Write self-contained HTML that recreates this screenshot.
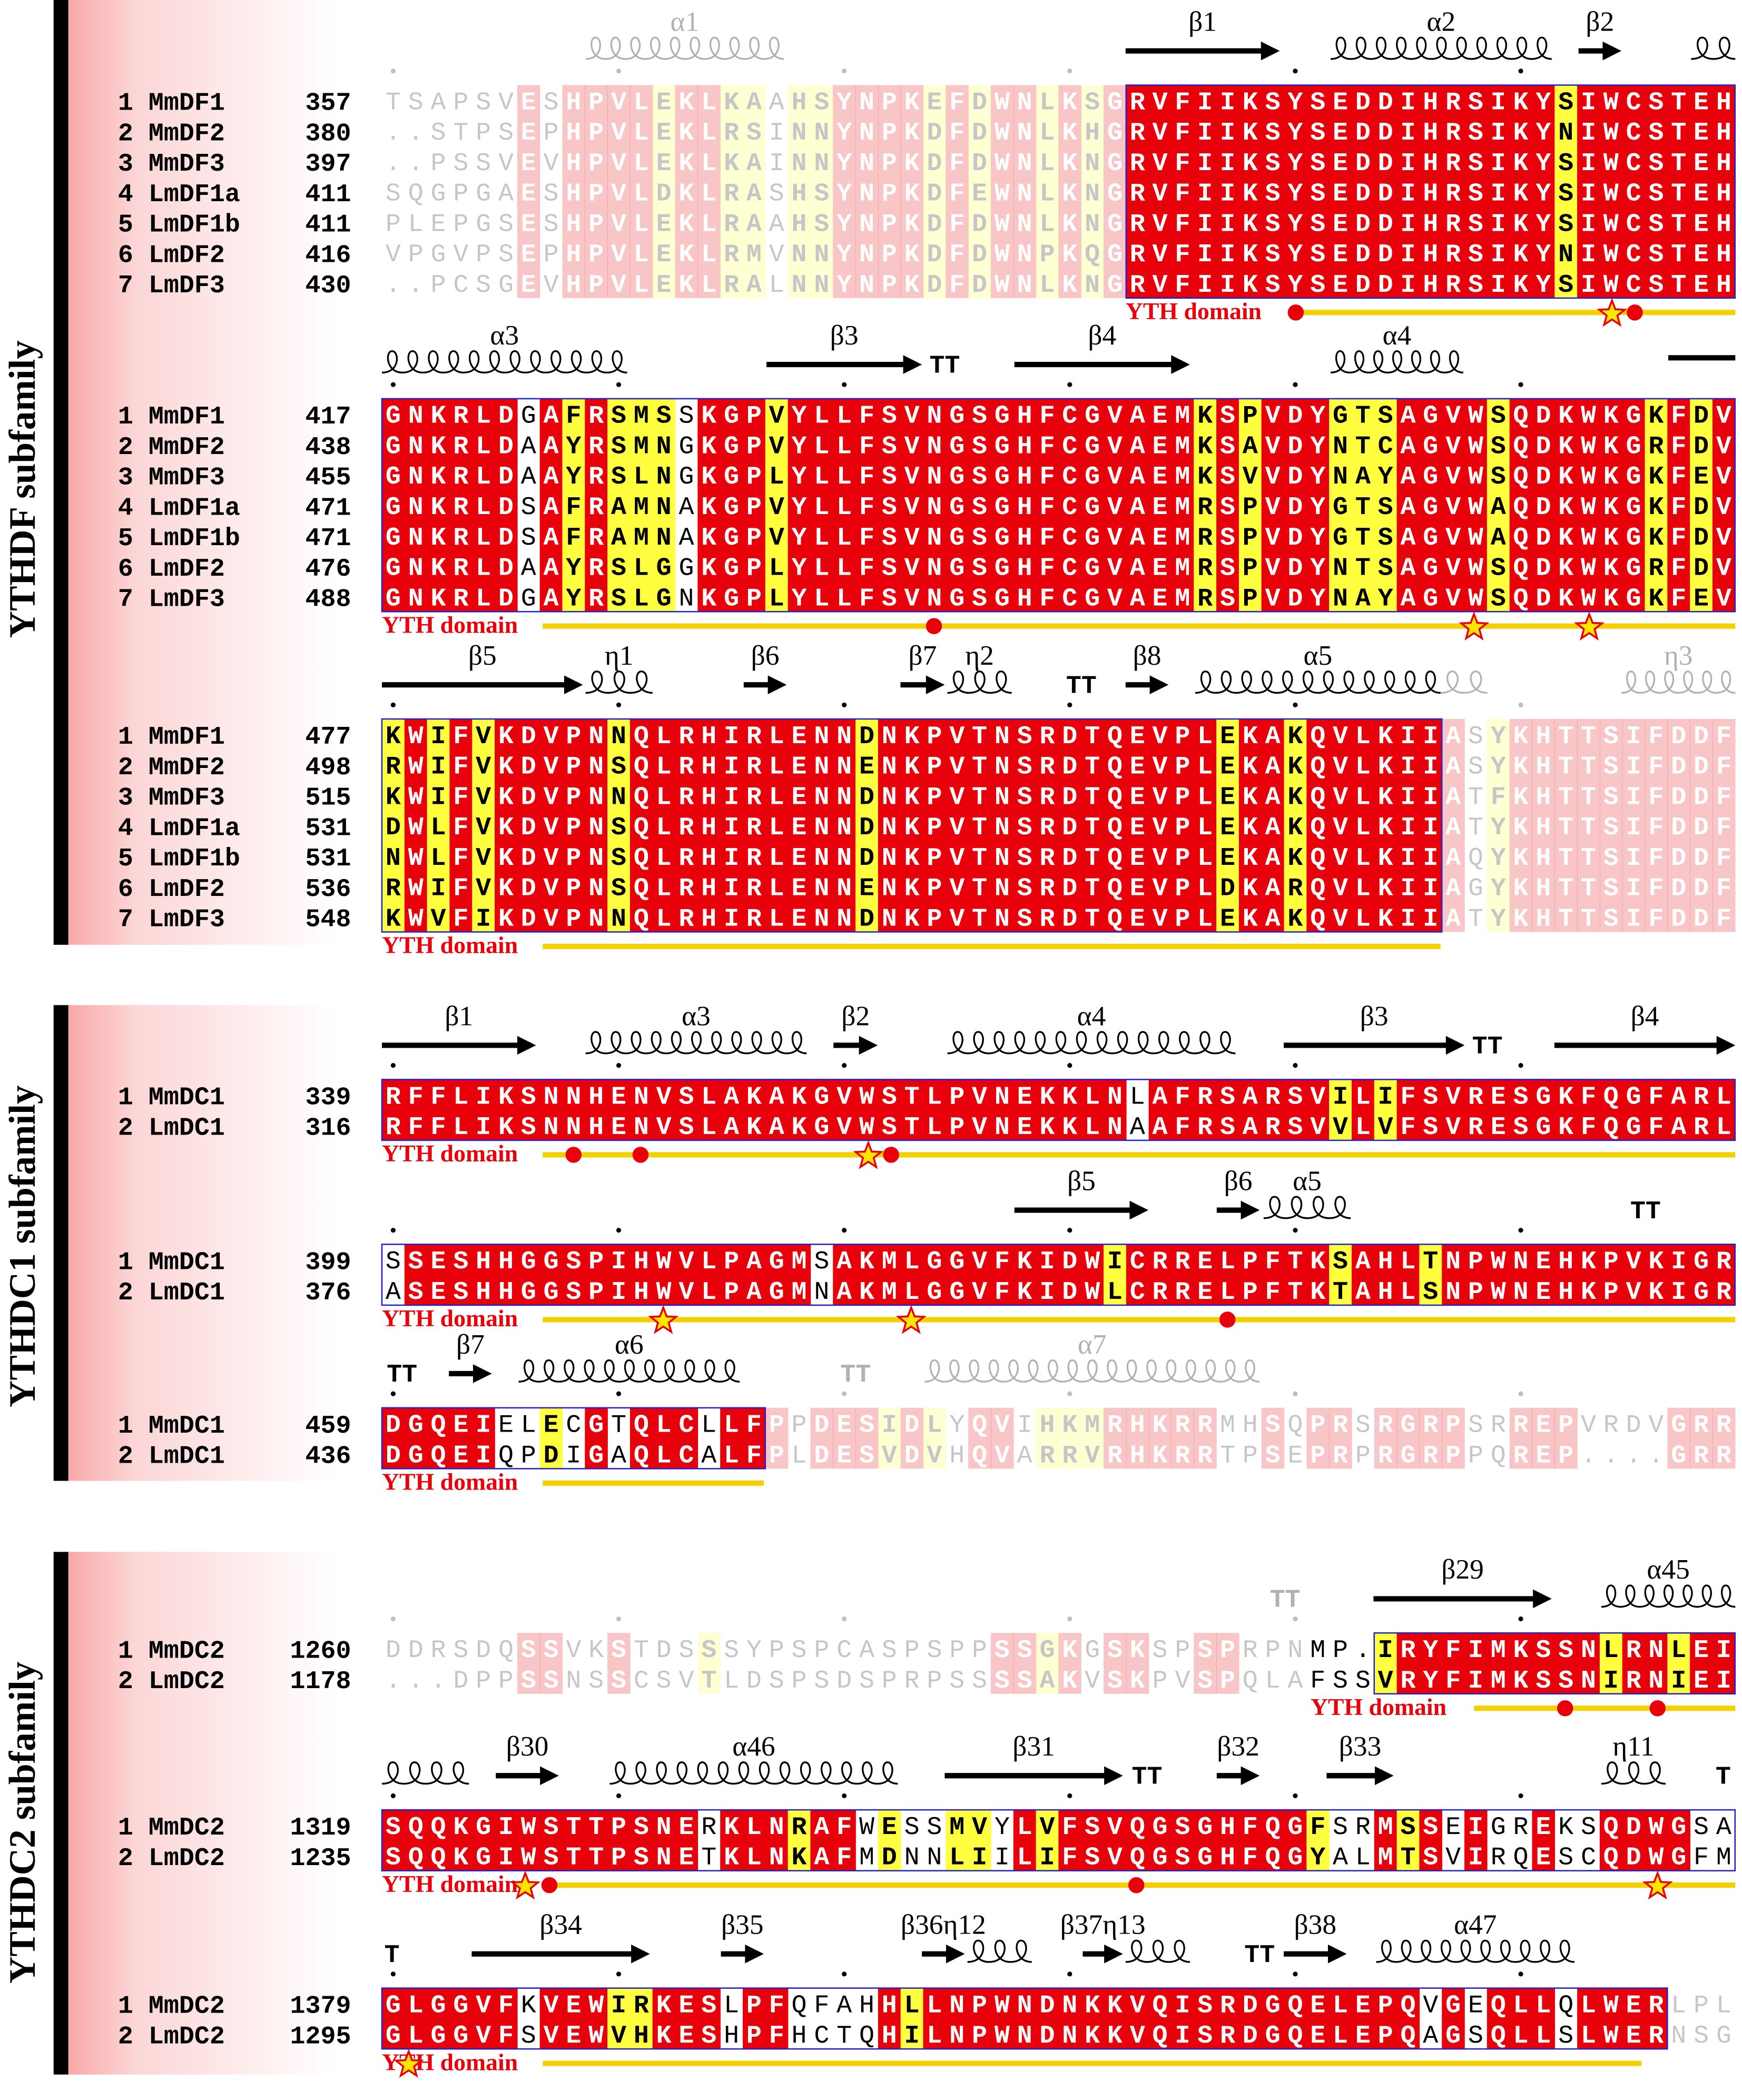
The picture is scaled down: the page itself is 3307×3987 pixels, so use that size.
<!DOCTYPE html>
<html><head><meta charset="utf-8"><title>YTH domain alignment</title>
<style>html,body{margin:0;padding:0;background:#fff;}svg{display:block;}</style></head>
<body>
<svg id="fig" xmlns="http://www.w3.org/2000/svg" width="3307" height="3987" viewBox="0 0 1300 1567" preserveAspectRatio="none">
<defs>
<linearGradient id="pink" x1="0" x2="1" y1="0" y2="0"><stop offset="0" stop-color="#f9a8a8"/><stop offset="0.25" stop-color="#fcd6d6"/><stop offset="1" stop-color="#ffffff"/></linearGradient>
</defs>
<g>
<rect x="51" y="0" width="200" height="705" fill="url(#pink)"/><rect x="40" y="0" width="11" height="705" fill="#000"/>
<text x="26" y="365" transform="rotate(-90 26 365)" text-anchor="middle" font-family="Liberation Serif, serif" font-weight="bold" font-size="28">YTHDF subfamily</text></g>
<g>
<rect x="51" y="750" width="200" height="355" fill="url(#pink)"/><rect x="40" y="750" width="11" height="355" fill="#000"/>
<text x="26" y="930" transform="rotate(-90 26 930)" text-anchor="middle" font-family="Liberation Serif, serif" font-weight="bold" font-size="28">YTHDC1 subfamily</text></g>
<g>
<rect x="51" y="1158" width="200" height="390" fill="url(#pink)"/><rect x="40" y="1158" width="11" height="390" fill="#000"/>
<text x="26" y="1360" transform="rotate(-90 26 1360)" text-anchor="middle" font-family="Liberation Serif, serif" font-weight="bold" font-size="28">YTHDC2 subfamily</text></g>
<g id="content"></g>
</svg>
<script>
const NS='http://www.w3.org/2000/svg';
const root=document.getElementById('content');
const X0=285, CW=16.83, RH=22.7;
const blockNames=['df-block1','df-block2','df-block3','dc1-block1','dc1-block2','dc1-block3','dc2-block1','dc2-block2','dc2-block3'];
const blockY=[75,309,548,817,940,1062,1230,1362,1495];
const dfNames=['MmDF1','MmDF2','MmDF3','LmDF1a','LmDF1b','LmDF2','LmDF3'];
const dc1Names=['MmDC1','LmDC1'];
const dc2Names=['MmDC2','LmDC2'];
const startPos=[[357,380,397,411,411,416,430],[417,438,455,471,471,476,488],[477,498,515,531,531,536,548],[339,316],[399,376],[459,436],[1260,1178],[1319,1235],[1379,1295]];
const seqs=[
['TSAPSVESHPVLEKLKAAHSYNPKEFDWNLKSGRVFIIKSYSEDDIHRSIKYSIWCSTEH','..STPSEPHPVLEKLRSINNYNPKDFDWNLKHGRVFIIKSYSEDDIHRSIKYNIWCSTEH','..PSSVEVHPVLEKLKAINNYNPKDFDWNLKNGRVFIIKSYSEDDIHRSIKYSIWCSTEH','SQGPGAESHPVLDKLRASHSYNPKDFEWNLKNGRVFIIKSYSEDDIHRSIKYSIWCSTEH','PLEPGSESHPVLEKLRAAHSYNPKDFDWNLKNGRVFIIKSYSEDDIHRSIKYSIWCSTEH','VPGVPSEPHPVLEKLRMVNNYNPKDFDWNPKQGRVFIIKSYSEDDIHRSIKYNIWCSTEH','..PCSGEVHPVLEKLRALNNYNPKDFDWNLKNGRVFIIKSYSEDDIHRSIKYSIWCSTEH'],
['GNKRLDGAFRSMSSKGPVYLLFSVNGSGHFCGVAEMKSPVDYGTSAGVWSQDKWKGKFDV','GNKRLDAAYRSMNGKGPVYLLFSVNGSGHFCGVAEMKSAVDYNTCAGVWSQDKWKGRFDV','GNKRLDAAYRSLNGKGPLYLLFSVNGSGHFCGVAEMKSVVDYNAYAGVWSQDKWKGKFEV','GNKRLDSAFRAMNAKGPVYLLFSVNGSGHFCGVAEMRSPVDYGTSAGVWAQDKWKGKFDV','GNKRLDSAFRAMNAKGPVYLLFSVNGSGHFCGVAEMRSPVDYGTSAGVWAQDKWKGKFDV','GNKRLDAAYRSLGGKGPLYLLFSVNGSGHFCGVAEMRSPVDYNTSAGVWSQDKWKGRFDV','GNKRLDGAYRSLGNKGPLYLLFSVNGSGHFCGVAEMRSPVDYNAYAGVWSQDKWKGKFEV'],
['KWIFVKDVPNNQLRHIRLENNDNKPVTNSRDTQEVPLEKAKQVLKIIASYKHTTSIFDDF','RWIFVKDVPNSQLRHIRLENNENKPVTNSRDTQEVPLEKAKQVLKIIASYKHTTSIFDDF','KWIFVKDVPNNQLRHIRLENNDNKPVTNSRDTQEVPLEKAKQVLKIIATFKHTTSIFDDF','DWLFVKDVPNSQLRHIRLENNDNKPVTNSRDTQEVPLEKAKQVLKIIATYKHTTSIFDDF','NWLFVKDVPNSQLRHIRLENNDNKPVTNSRDTQEVPLEKAKQVLKIIAQYKHTTSIFDDF','RWIFVKDVPNSQLRHIRLENNENKPVTNSRDTQEVPLDKARQVLKIIAGYKHTTSIFDDF','KWVFIKDVPNNQLRHIRLENNDNKPVTNSRDTQEVPLEKAKQVLKIIATYKHTTSIFDDF'],
['RFFLIKSNNHENVSLAKAKGVWSTLPVNEKKLNLAFRSARSVILIFSVRESGKFQGFARL','RFFLIKSNNHENVSLAKAKGVWSTLPVNEKKLNAAFRSARSVVLVFSVRESGKFQGFARL'],
['SSESHHGGSPIHWVLPAGMSAKMLGGVFKIDWICRRELPFTKSAHLTNPWNEHKPVKIGR','ASESHHGGSPIHWVLPAGMNAKMLGGVFKIDWLCRRELPFTKTAHLSNPWNEHKPVKIGR'],
['DGQEIELECGTQLCLLFPPDESIDLYQVIHKMRHKRRMHSQPRSRGRPSRREPVRDVGRR','DGQEIQPDIGAQLCALFPLDESVDVHQVARRVRHKRRTPSEPRPRGRPPQREP....GRR'],
['DDRSDQSSVKSTDSSSYPSPCASPSPPSSGKGSKSPSPRPNMP.IRYFIMKSSNLRNLEI','...DPPSSNSSCSVTLDSPSDSPRPSSSSAKVSKPVSPQLAFSSVRYFIMKSSNIRNIEI'],
['SQQKGIWSTTPSNERKLNRAFWESSMVYLVFSVQGSGHFQGFSRMSSEIGREKSQDWGSA','SQQKGIWSTTPSNETKLNKAFMDNNLIILIFSVQGSGHFQGYALMTSVIRQESCQDWGFM'],
['GLGGVFKVEWIRKESLPFQFAHHLLNPWNDNKKVQISRDGQELEPQVGEQLLQLWERLPL','GLGGVFSVEWVHKESHPFHCTQHILNPWNDNKKVQISRDGQELEPQAGSQLLSLWERNSG']];
const fadeRange=[[0,33],[60,60],[47,60],[60,60],[60,60],[17,60],[0,41],[60,60],[57,60]];
const domainLabelX=[840,285,285,285,285,285,978,285,285];
const domainLine=[[970,1295],[405,1295],[405,1075],[405,1295],[405,1295],[405,570],[1100,1295],[405,1295],[405,1225]];
const ss=[
[['h',437,585,'α1',1],['a',840,955,'β1'],['h',993,1158,'α2'],['a',1178,1210,'β2'],['h',1262,1295,'']],
[['h',285,468,'α3'],['a',572,688,'β3'],['t',690,720,''],['a',757,888,'β4'],['h',993,1092,'α4'],['l',1245,1295,'']],
[['a',285,435,'β5'],['h',437,487,'η1'],['a',555,587,'β6'],['a',672,705,'β7'],['h',707,755,'η2'],['t',792,822,''],['a',840,872,'β8'],['h',892,1075,'α5'],['h',1075,1110,'',1],['h',1210,1295,'η3',1]],
[['a',285,400,'β1'],['h',437,602,'α3'],['a',622,655,'β2'],['h',707,922,'α4'],['a',958,1093,'β3'],['t',1095,1125,''],['a',1160,1295,'β4']],
[['a',757,857,'β5'],['a',908,940,'β6'],['h',943,1008,'α5'],['t',1213,1243,'']],
[['t',285,315,''],['a',335,367,'β7'],['h',387,552,'α6'],['t',622,655,'',1],['h',690,940,'α7',1]],
[['t',943,975,'',1],['a',1025,1158,'β29'],['h',1195,1295,'α45']],
[['h',285,350,''],['a',370,417,'β30'],['h',455,670,'α46'],['a',705,838,'β31'],['t',840,872,''],['a',908,940,'β32'],['a',990,1040,'β33'],['h',1195,1243,'η11'],['t',1280,1292,'T']],
[['t',285,300,'T'],['a',352,485,'β34'],['a',538,570,'β35'],['a',688,720,'β36η12'],['h',722,770,''],['a',808,838,'β37η13'],['h',840,888,''],['t',925,955,''],['a',958,1005,'β38'],['h',1027,1175,'α47']]];
const marks=[[['d',967],['s',1203],['d',1220]],[['d',697],['s',1100],['s',1186]],[],[['d',428],['d',478],['s',648],['d',665]],[['s',495],['s',680],['d',916]],[],[['d',1168],['d',1237]],[['s',392],['d',410],['d',848],['s',1237]],[['s',305]]];

const groups=['ILMV','FYW','KRH','DE','NQ','ST','AG','C','P'];
function grp(c){for(let i=0;i<groups.length;i++) if(groups[i].includes(c)) return i; return -1;}
function el(tag,attrs,parent){const e=document.createElementNS(NS,tag);for(const k in attrs)e.setAttribute(k,attrs[k]);(parent||root).appendChild(e);return e;}

blockY.forEach((y0,b)=>{
  const g=el('g',{});
  
  
  const rows=seqs[b];
  const names=b<3?dfNames:(b<6?dc1Names:dc2Names);
  const n=rows.length;
  rows.forEach((s,r)=>{
    const yy=y0+r*RH;
    const t=el('text',{x:88,y:yy+7,'font-family':'Liberation Mono, monospace','font-weight':'bold','font-size':19,'xml:space':'preserve'},g);
    t.textContent=(r+1)+' '+names[r];
    
    
    const p=el('text',{x:262,y:yy+7,'text-anchor':'end','font-family':'Liberation Mono, monospace','font-weight':'bold','font-size':19},g);
    p.textContent=startPos[b][r];
    
    
  });
  for(let c=0;c<60;c++){
    const col=rows.map(s=>s[c]||' ');
    const cnt={};col.forEach(ch=>{cnt[ch]=(cnt[ch]||0)+1;});
    const maxc=Math.max(...Object.values(cnt));
    const gc={};col.forEach(ch=>{const q=grp(ch);if(q>=0)gc[q]=(gc[q]||0)+1;});
    let kind='w';
    if(col.every(ch=>ch===col[0])&&col[0]!=='.') kind='r';
    else if(n>2){
      let ok=maxc>=4;
      for(const q in gc){ if(gc[q]>=5 && groups[q]!=='AG' && groups[q]!=='ST') ok=true; }
      if(ok) kind='y';
    } else if(grp(col[0])>=0&&grp(col[0])===grp(col[1])) kind='y';
    const faded=c>=fadeRange[b][0]&&c<fadeRange[b][1];
    const cg=el('g',{opacity:faded?0.22:1},g);
    const x=X0+c*CW;
    if(kind!=='w'){
      el('rect',{x:x,y:y0-11.5,width:CW+0.3,height:n*RH,fill:kind==='r'?'#e8000b':'#ffff40'},cg);
    }
    col.forEach((ch,r)=>{
      const t=el('text',{x:x+CW/2,y:y0+r*RH+6.5,'text-anchor':'middle','font-family':'Liberation Mono, monospace','font-size':19,'font-weight':kind==='w'?'normal':'bold',fill:kind==='r'?'#fff':'#000'},cg);
      t.textContent=ch;
      
      
    });
    if(c%10===0){ el('circle',{cx:x+CW/2,cy:y0-22,r:1.8,fill:'#000',opacity:faded?0.25:1},g); }
  }
  const f0=fadeRange[b][0]===0?fadeRange[b][1]:0, f1=fadeRange[b][0]===0?60:fadeRange[b][0];
  const fs=(b===6)?44:f0;
  if(f1>fs) el('rect',{x:X0+fs*CW,y:y0-11.5,width:(f1-fs)*CW,height:n*RH,fill:'none',stroke:'#2222cc','stroke-width':1},g);
  const ey=y0-37, ly=y0-52;
  ss[b].forEach(s=>{
    const [type,x1,x2,lab,fd]=s;
    const sg=el('g',{opacity:fd?0.3:1},g);
    
    
    if(type==='a'){
      el('line',{x1:x1,y1:ey,x2:x2-12,y2:ey,stroke:'#000','stroke-width':4},sg);
      el('polygon',{points:`${x2-14},${ey-7} ${x2},${ey} ${x2-14},${ey+7}`,fill:'#000'},sg);
    }else if(type==='h'){
      const w=15; const k=Math.max(1,Math.round((x2-x1)/w));
      const ww=(x2-x1)/k;
      let d='M'+x1+','+(ey+6);
      for(let i=0;i<k;i++){const xs=x1+i*ww;d+=` C${xs+ww*0.9},${ey+6} ${xs+ww*0.85},${ey-10} ${xs+ww*0.5},${ey-10} C${xs+ww*0.15},${ey-10} ${xs+ww*0.2},${ey+6} ${xs+ww},${ey+6}`;}
      el('path',{d:d,fill:'none',stroke:'#000','stroke-width':1.3},sg);
    }else if(type==='l'){
      el('line',{x1:x1,y1:ey-5,x2:x2,y2:ey-5,stroke:'#000','stroke-width':4},sg);
    }else if(type==='t'){
      const tt=el('text',{x:(x1+x2)/2,y:ey+6,'text-anchor':'middle','font-family':'Liberation Mono, monospace','font-weight':'bold','font-size':19},sg);
      tt.textContent=lab||'TT';
    }
    if(lab&&type!=='t'){
      const lt=el('text',{x:(x1+x2)/2,y:ly,'text-anchor':'middle','font-family':'Liberation Serif, serif','font-size':21},sg);
      lt.textContent=lab;
    }
  });
  const by=y0+(n-1)*RH+21;
  const dl=el('text',{x:domainLabelX[b],y:by+6,'font-family':'Liberation Serif, serif','font-weight':'bold','font-size':18,fill:'#e8000b'},g);
  dl.textContent='YTH domain';
  
  
  el('line',{x1:domainLine[b][0],y1:by+1,x2:domainLine[b][1],y2:by+1,stroke:'#f5d000','stroke-width':4},g);
  marks[b].forEach(m=>{
    if(m[0]==='d'){ el('circle',{cx:m[1],cy:by+1,r:6,fill:'#e8000b'},g); }
    else{
      const cx=m[1],cy=by+2,R=10,r=4.2;let pts=[];
      for(let i=0;i<10;i++){const a=-Math.PI/2+i*Math.PI/5;const rr=i%2?r:R;pts.push((cx+rr*Math.cos(a)).toFixed(1)+','+(cy+rr*Math.sin(a)).toFixed(1));}
      el('polygon',{points:pts.join(' '),fill:'#ffe600',stroke:'#e8000b','stroke-width':1.4},g);
    }
  });
});
</script>
</body></html>
